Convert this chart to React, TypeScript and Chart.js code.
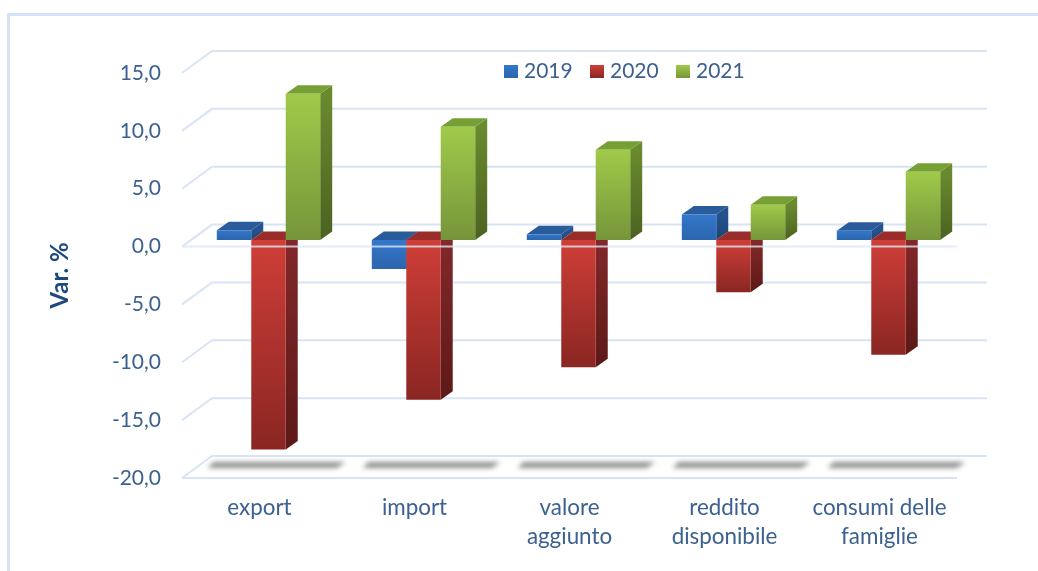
import React, { useEffect, useRef } from "react";
import { Chart, registerables } from "chart.js";

Chart.register(...registerables);

const categories: (string | string[])[] = [
  "export",
  "import",
  ["valore", "aggiunto"],
  ["reddito", "disponibile"],
  ["consumi delle", "famiglie"],
];
const years = ["2019", "2020", "2021"];
const values2019 = [0.85, -2.5, 0.5, 2.2, 0.8];
const values2020 = [-18.1, -13.8, -11.0, -4.5, -9.9];
const values2021 = [12.65, 9.8, 7.8, 3.05, 5.9];

const FONT = "Lato, Carlito, Calibri, sans-serif";
const TEXT = "#3c6190";
const GRID = "#d8e4f5";
const FRAME = "#d5e3f4";

const BACK_DX = 30;
const BACK_DY = -22;
const BAR_DX = 9;
const BAR_DY = -6.5;
const DEPTH_X = 12;
const DEPTH_Y = -8.5;

const FRONT = [
  ["#3477ca", "#2b65ad"],
  ["#cf3e38", "#8a2622"],
  ["#a0ca4a", "#76953a"],
];
const SIDE = [
  ["#25538f", "#1d4372"],
  ["#82282a", "#5c1917"],
  ["#6a8a2e", "#4b6220"],
];
const TOP = ["#2a5c9b", "#9a2c29", "#76a033"];

function frontGradient(c: any, idx: number) {
  const chart = c.chart;
  const y = chart.scales?.y;
  if (!y || !c.parsed) return FRONT[idx][0];
  const a = y.getPixelForValue(Math.max(c.parsed.y, 0));
  const b = y.getPixelForValue(Math.min(c.parsed.y, 0));
  if (!Number.isFinite(a) || !Number.isFinite(b)) return FRONT[idx][0];
  const g = chart.ctx.createLinearGradient(0, a, 0, b);
  g.addColorStop(0, FRONT[idx][0]);
  g.addColorStop(1, FRONT[idx][1]);
  return g;
}

function drawDepth(ctx: any, meta: any, idx: number) {
  meta.data.forEach((el: any) => {
    const p = el.getProps(["x", "y", "base", "width"], true);
    const l = p.x - p.width / 2;
    const r = p.x + p.width / 2;
    const t = Math.min(p.y, p.base);
    const b = Math.max(p.y, p.base);
    const g = ctx.createLinearGradient(0, t, 0, b);
    g.addColorStop(0, SIDE[idx][0]);
    g.addColorStop(1, SIDE[idx][1]);
    ctx.fillStyle = g;
    ctx.beginPath();
    ctx.moveTo(r, t);
    ctx.lineTo(r + DEPTH_X, t + DEPTH_Y);
    ctx.lineTo(r + DEPTH_X, b + DEPTH_Y);
    ctx.lineTo(r, b);
    ctx.closePath();
    ctx.fill();
    ctx.fillStyle = TOP[idx];
    ctx.beginPath();
    ctx.moveTo(l, t);
    ctx.lineTo(l + DEPTH_X, t + DEPTH_Y);
    ctx.lineTo(r + DEPTH_X, t + DEPTH_Y);
    ctx.lineTo(r, t);
    ctx.closePath();
    ctx.fill();
  });
}

const threeD = {
  id: "threeD",
  beforeDraw(chart: any) {
    const { ctx, width, height } = chart;
    ctx.save();
    ctx.strokeStyle = FRAME;
    ctx.lineWidth = 3;
    ctx.beginPath();
    ctx.moveTo(8.5, height);
    ctx.lineTo(8.5, 14.5);
    ctx.lineTo(width, 14.5);
    ctx.stroke();
    ctx.restore();
  },
  beforeDatasetsDraw(chart: any) {
    const { ctx, chartArea: a, scales } = chart;
    const y = scales.y;
    const x = scales.x;
    ctx.save();
    ctx.strokeStyle = GRID;
    ctx.lineWidth = 2;
    y.ticks.forEach((t: any) => {
      const py = y.getPixelForValue(t.value);
      ctx.beginPath();
      ctx.moveTo(a.left, py);
      ctx.lineTo(a.left + BACK_DX, py + BACK_DY);
      ctx.lineTo(a.right + BACK_DX, py + BACK_DY);
      ctx.stroke();
    });
    const floor = y.getPixelForValue(y.min);
    ctx.beginPath();
    ctx.moveTo(a.left, floor);
    ctx.lineTo(a.right, floor);
    ctx.stroke();
    // floor shadows, one for each category
    ctx.filter = "blur(2.5px)";
    ctx.fillStyle = "rgba(105,105,105,0.75)";
    categories.forEach((_, i) => {
      const cx = x.getPixelForValue(i);
      ctx.beginPath();
      ctx.moveTo(cx - 46, floor - 16);
      ctx.lineTo(cx + 86, floor - 16);
      ctx.lineTo(cx + 77, floor - 10);
      ctx.lineTo(cx - 52, floor - 10);
      ctx.closePath();
      ctx.fill();
    });
    ctx.restore();
  },
  // The library paints the last dataset first; here 2019 must lie underneath,
  // so each dataset's own draw runs below in series order.
  beforeDatasetDraw() {
    return false;
  },
  afterDatasetsDraw(chart: any) {
    const { ctx, chartArea: a, scales } = chart;
    chart.data.datasets.forEach((_: any, i: number) => {
      const meta = chart.getDatasetMeta(i);
      ctx.save();
      ctx.translate(BAR_DX, BAR_DY);
      drawDepth(ctx, meta, i);
      meta.controller.draw();
      ctx.restore();
    });
    const py = scales.y.getPixelForValue(0);
    ctx.save();
    ctx.strokeStyle = "rgba(222,231,245,0.8)";
    ctx.lineWidth = 2;
    ctx.beginPath();
    ctx.moveTo(a.left, py);
    ctx.lineTo(a.right, py);
    ctx.stroke();
    ctx.restore();
  },
  afterDraw(chart: any) {
    const { ctx } = chart;
    ctx.save();
    ctx.font = `21px ${FONT}`;
    ctx.textBaseline = "middle";
    ctx.textAlign = "left";
    let px = 504;
    chart.data.datasets.forEach((d: any, i: number) => {
      const g = ctx.createLinearGradient(0, 65, 0, 78);
      g.addColorStop(0, FRONT[i][0]);
      g.addColorStop(1, FRONT[i][1]);
      ctx.fillStyle = g;
      ctx.fillRect(px, 65, 14, 13);
      ctx.fillStyle = TEXT;
      ctx.fillText(d.label, px + 20, 71.5);
      px += 86;
    });
    ctx.restore();
  },
};

export default function App() {
  const ref = useRef<HTMLCanvasElement>(null);
  useEffect(() => {
    const series = [values2019, values2020, values2021];
    const chart = new Chart(ref.current!, {
      type: "bar",
      data: {
        labels: categories as any,
        datasets: series.map((data, i) => ({
          label: years[i],
          data,
          clip: false as any,
          categoryPercentage: 0.667,
          barPercentage: 1,
          borderWidth: 0,
          backgroundColor: (c: any) => frontGradient(c, i),
        })),
      },
      options: {
        responsive: false,
        animation: false,
        layout: { padding: { left: 0, top: 73, right: 81, bottom: 0 } },
        plugins: { legend: { display: false }, tooltip: { enabled: false }, title: { display: false } },
        scales: {
          x: {
            grid: { display: false },
            border: { display: false },
            afterFit: (s: any) => { s.height = 93; },
            ticks: {
              color: TEXT,
              padding: 7,
              autoSkip: false,
              maxRotation: 0,
              font: { family: FONT, size: 22.4, lineHeight: 1.3 },
            },
          },
          y: {
            min: -20,
            max: 15,
            grid: { display: false, drawTicks: false },
            border: { display: false },
            afterFit: (s: any) => { s.width = 182; },
            ticks: {
              stepSize: 5,
              color: TEXT,
              padding: 21,
              font: { family: FONT, size: 21 },
              callback: (v: any) => Number(v).toFixed(1).replace(".", ","),
            },
            title: {
              display: true,
              text: "Var. %",
              color: "#1f497d",
              padding: { top: 46, bottom: 0 },
              font: { family: FONT, size: 24, weight: "bold" },
            },
          },
        },
      },
      plugins: [threeD],
    } as any);
    return () => chart.destroy();
  }, []);
  return (
    <div style={{ position: "fixed", left: 0, top: 0, width: 1038, height: 571, background: "#fff" }}>
      <canvas ref={ref} width={1038} height={571} style={{ display: "block" }} />
    </div>
  );
}
